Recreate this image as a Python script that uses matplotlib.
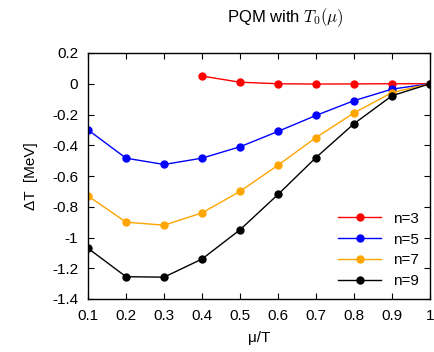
import matplotlib as mpl
mpl.use("Agg")
import matplotlib.pyplot as plt

plt.rcParams["font.family"] = ["Liberation Sans", "DejaVu Sans"]
plt.rcParams["mathtext.fontset"] = "cm"

mu_T = [0.1, 0.2, 0.3, 0.4, 0.5, 0.6, 0.7, 0.8, 0.9, 1.0]
mu_T_n3 = [0.4, 0.5, 0.6, 0.7, 0.8, 0.9, 1.0]

dT_n3 = [0.05, 0.01, 0.0, -0.002, -0.001, 0.0, 0.0]
dT_n5 = [-0.30, -0.484, -0.525, -0.484, -0.41, -0.31, -0.206, -0.11, -0.035, 0.0]
dT_n7 = [-0.73, -0.90, -0.92, -0.84, -0.70, -0.53, -0.35, -0.19, -0.057, 0.0]
dT_n9 = [-1.07, -1.255, -1.258, -1.14, -0.95, -0.72, -0.48, -0.26, -0.078, 0.0]

series = [
    (mu_T_n3, dT_n3, "n=3", "#ff0000"),
    (mu_T, dT_n5, "n=5", "#0000ff"),
    (mu_T, dT_n7, "n=7", "#ffa500"),
    (mu_T, dT_n9, "n=9", "#000000"),
]

xticks = [0.1, 0.2, 0.3, 0.4, 0.5, 0.6, 0.7, 0.8, 0.9, 1.0]
xticklabels = ["0.1", "0.2", "0.3", "0.4", "0.5", "0.6", "0.7", "0.8", "0.9", "1"]
yticks = [0.2, 0, -0.2, -0.4, -0.6, -0.8, -1, -1.2, -1.4]
yticklabels = ["0.2", "0", "-0.2", "-0.4", "-0.6", "-0.8", "-1", "-1.2", "-1.4"]

fig = plt.figure(figsize=(4.35, 3.52), dpi=100)
ax = fig.add_axes([88 / 435, 53 / 352, 342 / 435, 246 / 352])

for x, y, label, color in series:
    ax.plot(x, y, color=color, lw=1.0, marker="o", ms=5, label=label)

ax.set_xlim(0.1, 1.0)
ax.set_ylim(-1.4, 0.2)
ax.set_xticks(xticks)
ax.set_xticklabels(xticklabels)
ax.set_yticks(yticks)
ax.set_yticklabels(yticklabels)
ax.tick_params(direction="in", top=True, right=True, length=4, width=0.8,
               labelsize=11, pad=7)
for s in ax.spines.values():
    s.set_linewidth(1.0)

ax.set_xlabel("μ/T", fontsize=11, labelpad=6)
ax.set_ylabel("ΔT  [MeV]", fontsize=11, labelpad=10)
fig.text(285 / 435, 1 - 18 / 352, r"PQM with $T_0(\mu)$", fontsize=12,
         ha="center", va="center")

ax.legend(loc="lower right", frameon=False, fontsize=11, handlelength=2.8,
          borderaxespad=0.3, labelspacing=0.45, handletextpad=0.8)

fig.savefig("out.png", dpi=100)
